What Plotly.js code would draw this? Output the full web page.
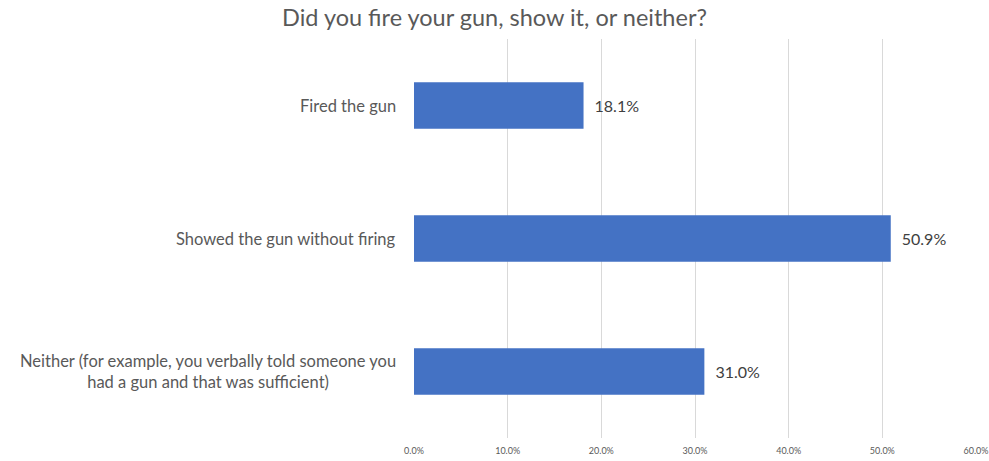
<!DOCTYPE html>
<html>
<head>
<meta charset="utf-8">
<script src="https://cdn.plot.ly/plotly-3.0.1.min.js"></script>
<style>html,body{margin:0;padding:0;background:#fff;}#chart{width:989px;height:461px;}</style>
</head>
<body>
<div id="chart"></div>
<script>
const categories = [
  "Fired the gun",
  "Showed the gun without firing",
  "Neither (for example, you verbally told someone you<br>had a gun and that was sufficient)"
];
const values = [0.181, 0.509, 0.310];
const tickVals = [0, 0.1, 0.2, 0.3, 0.4, 0.5, 0.6];
const tickText = ["0.0%", "10.0%", "20.0%", "30.0%", "40.0%", "50.0%", "60.0%"];

const FONT = "Lato, 'Open Sans', sans-serif";

const trace = {
  type: 'bar',
  orientation: 'h',
  x: values,
  y: categories,
  marker: {color: '#4472C4'},
  text: values.map(v => '\u2002' + (v * 100).toFixed(1) + '%'),
  textposition: 'outside',
  textfont: {family: FONT, size: 16, color: '#404040'},
  cliponaxis: false,
  hoverinfo: 'none'
};

const annotations = categories.map(c => ({
  text: c,
  xref: 'paper', yref: 'y',
  x: -0.028, y: c,
  xanchor: 'right', yanchor: 'middle',
  align: 'center',
  showarrow: false,
  font: {family: FONT, size: 16.5, color: '#595959'}
}));

const layout = {
  width: 989, height: 461,
  margin: {l: 414, r: 13, t: 39, b: 23},
  paper_bgcolor: '#fff', plot_bgcolor: '#fff',
  title: {text: 'Did you fire your gun, show it, or neither?', x: 0.5, xanchor: 'center', y: 0.962, yanchor: 'middle',
          font: {family: FONT, size: 23.5, color: '#595959'}},
  bargap: 0.65,
  showlegend: false,
  xaxis: {
    range: [0, 0.6],
    tickvals: tickVals, ticktext: tickText,
    showgrid: true, gridcolor: '#d9d9d9', gridwidth: 1,
    zeroline: false, showline: false, ticks: '',
    ticklabelstandoff: 6,
    tickfont: {family: FONT, size: 9, color: '#595959'},
    fixedrange: true
  },
  yaxis: {
    autorange: 'reversed',
    showticklabels: false,
    showgrid: false, zeroline: false, showline: false, ticks: '',
    fixedrange: true
  },
  annotations: annotations
};

Plotly.newPlot('chart', [trace], layout, {displayModeBar: false, staticPlot: true});
</script>
</body>
</html>
